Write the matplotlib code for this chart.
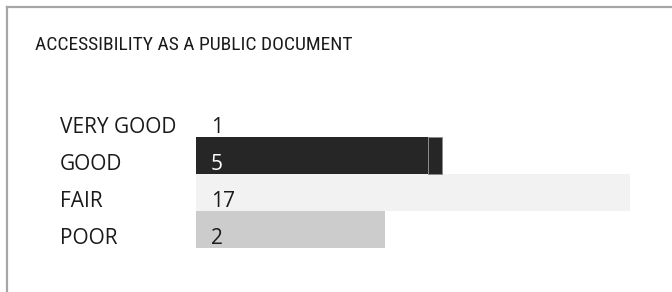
import matplotlib
matplotlib.use("Agg")
import matplotlib.pyplot as plt
from matplotlib import font_manager
from matplotlib.lines import Line2D

categories = ["VERY GOOD", "GOOD", "FAIR", "POOR"]
values = [1, 5, 17, 2]
# displayed bar extents (arbitrary units, FAIR = 17)
bar_main = [0.0, 9.1, 17.0, 7.4]
bar_cap = [0.0, 0.55, 0.0, 0.0]
colors = ["#ffffff", "#262626", "#f2f2f2", "#cccccc"]
title = "ACCESSIBILITY AS A PUBLIC DOCUMENT"

avail = {f.name for f in font_manager.fontManager.ttflist}
def pick(cands):
    for c in cands:
        if c in avail:
            return c
    return "DejaVu Sans"
title_fam = pick(["Liberation Sans Narrow", "Roboto Condensed", "Roboto"])
label_fam = pick(["Open Sans", "Noto Sans", "Liberation Sans"])
plt.rcParams["font.family"] = [label_fam, "DejaVu Sans"]

W, H = 672, 292
fig = plt.figure(figsize=(W / 100, H / 100), dpi=100)

# frame lines (top and left)
fig.add_artist(Line2D([7 / W, 1], [1 - 7 / H, 1 - 7 / H], color="#a6a6a6", lw=1.6))
fig.add_artist(Line2D([7 / W, 7 / W], [0, 1 - 7 / H], color="#a6a6a6", lw=1.6))

fig.text(35 / W, 1 - 45 / H, title, fontsize=14, va="center", ha="left",
         color="#1a1a1a", family=[title_fam, "DejaVu Sans"])

x0, x1 = 196, 630
y_top, y_bot = 100, 248
ax = fig.add_axes([x0 / W, 1 - y_bot / H, (x1 - x0) / W, (y_bot - y_top) / H])
ax.set_xlim(0, 17)
ax.set_ylim(len(categories) - 0.5, -0.5)
ax.axis("off")
ypos = list(range(len(categories)))
ax.barh(ypos, bar_main, height=1.0, color=colors, linewidth=0)
for i, (m, c) in enumerate(zip(bar_main, bar_cap)):
    if c > 0:
        ax.barh(i, c, left=m, height=1.0, color=colors[i],
                edgecolor="#8c8c8c", linewidth=0.7)

for i, (cat, v) in enumerate(zip(categories, values)):
    ax.text(-136 / 434 * 17, i + 0.25, cat, fontsize=15, va="center", ha="left",
            color="#1a1a1a", clip_on=False)
    ax.text(15 / 434 * 17, i + 0.25, str(v), fontsize=15, va="center", ha="left",
            color="#ffffff" if i == 1 else "#1a1a1a", clip_on=False)

fig.savefig("out.png", dpi=100)
